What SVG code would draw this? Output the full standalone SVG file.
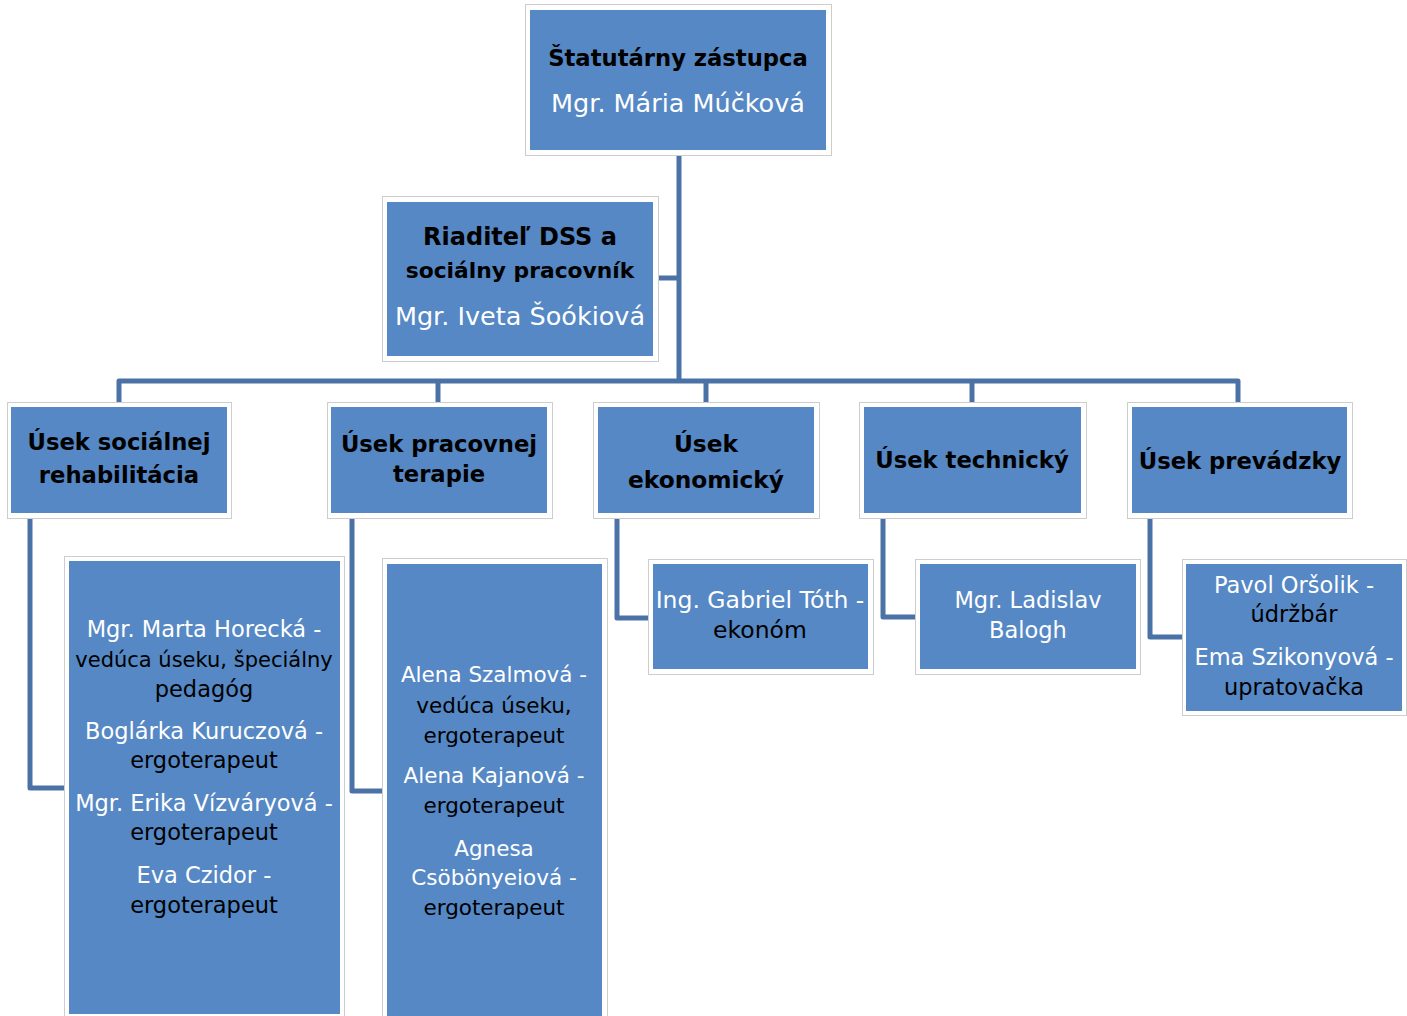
<svg xmlns="http://www.w3.org/2000/svg" width="1407" height="1016" viewBox="0 0 1407 1016">
<style>
.frame{fill:#ffffff;stroke:#cdcdcd;stroke-width:1}
.box{fill:#5588c4}
.conn{fill:none;stroke:#4a72a6;stroke-width:5;stroke-linejoin:round;stroke-linecap:butt}
text{font-family:"DejaVu Sans","Liberation Sans",sans-serif;text-anchor:middle}
.h{font-weight:bold;fill:#000000;font-size:22.7px}
.w{fill:#ffffff;font-size:22.5px}
.b{fill:#000000;font-size:22.5px}
.big{font-size:25.5px}
.sm{font-size:21.5px}
.lg{font-size:23.5px}
</style>
<rect width="1407" height="1016" fill="#ffffff"/>
<g id="connectors">
<path class="conn" d="M679,155 V381"/>
<path class="conn" d="M656,278 H679"/>
<path class="conn" d="M119,402 V381 H1238 V402"/>
<path class="conn" d="M438,381 V402"/>
<path class="conn" d="M706,381 V402"/>
<path class="conn" d="M972,381 V402"/>
<path class="conn" d="M30,516 V788 H66"/>
<path class="conn" d="M352,516 V791 H384"/>
<path class="conn" d="M617,516 V618 H650"/>
<path class="conn" d="M883,516 V617 H917"/>
<path class="conn" d="M1150,516 V637 H1184"/>
</g>
<g id="statutarny">
<rect class="frame" x="525.5" y="4.5" width="306" height="151"/>
<rect class="box" x="530" y="10" width="296" height="140"/>
<text class="h" x="678" y="66">Štatutárny zástupca</text>
<text class="w big" x="678" y="112">Mgr. Mária Múčková</text>
</g>
<g id="riaditel">
<rect class="frame" x="382.5" y="196.5" width="276" height="165"/>
<rect class="box" x="387" y="202" width="266" height="154"/>
<text class="h" x="520" y="245" style="font-size:24px">Riaditeľ DSS a</text>
<text class="h" x="520" y="278" style="font-size:21.8px">sociálny pracovník</text>
<text class="w big" x="520" y="325">Mgr. Iveta Šoókiová</text>
</g>
<g id="usek-socialnej">
<rect class="frame" x="7.5" y="402.5" width="224" height="116"/>
<rect class="box" x="11" y="407" width="216" height="106"/>
<text class="h" x="119" y="450">Úsek sociálnej</text>
<text class="h" x="119" y="483">rehabilitácia</text>
</g>
<g id="usek-pracovnej">
<rect class="frame" x="327.5" y="402.5" width="225" height="116"/>
<rect class="box" x="331" y="407" width="216" height="106"/>
<text class="h" x="439" y="452">Úsek pracovnej</text>
<text class="h" x="439" y="482">terapie</text>
</g>
<g id="usek-ekonomicky">
<rect class="frame" x="593.5" y="402.5" width="226" height="116"/>
<rect class="box" x="598" y="407" width="216" height="106"/>
<text class="h" x="706" y="452" style="font-size:23.3px">Úsek</text>
<text class="h" x="706" y="488" style="font-size:23.3px">ekonomický</text>
</g>
<g id="usek-technicky">
<rect class="frame" x="859.5" y="402.5" width="227" height="116"/>
<rect class="box" x="864" y="407" width="217" height="106"/>
<text class="h" x="972" y="468">Úsek technický</text>
</g>
<g id="usek-prevadzky">
<rect class="frame" x="1127.5" y="402.5" width="225" height="116"/>
<rect class="box" x="1132" y="407" width="215" height="106"/>
<text class="h" x="1240" y="469">Úsek prevádzky</text>
</g>
<g id="socialna-team">
<rect class="frame" x="64.5" y="556.5" width="280" height="470"/>
<rect class="box" x="69" y="561" width="271" height="453"/>
<text class="w" x="204" y="637">Mgr. Marta Horecká -</text>
<text class="b" x="204" y="667" style="font-size:21px">vedúca úseku, špeciálny</text>
<text class="b" x="204" y="697">pedagóg</text>
<text class="w" x="204" y="739">Boglárka Kuruczová -</text>
<text class="b" x="204" y="768">ergoterapeut</text>
<text class="w" x="204" y="811">Mgr. Erika Vízváryová -</text>
<text class="b" x="204" y="840">ergoterapeut</text>
<text class="w" x="204" y="883">Eva Czidor -</text>
<text class="b" x="204" y="913">ergoterapeut</text>
</g>
<g id="pracovna-team">
<rect class="frame" x="382.5" y="558.5" width="225" height="470"/>
<rect class="box" x="387" y="564" width="215" height="460"/>
<text class="w sm" x="494" y="682">Alena Szalmová -</text>
<text class="b sm" x="494" y="713">vedúca úseku,</text>
<text class="b sm" x="494" y="743">ergoterapeut</text>
<text class="w sm" x="494" y="783">Alena Kajanová -</text>
<text class="b sm" x="494" y="813">ergoterapeut</text>
<text class="w sm" x="494" y="856">Agnesa</text>
<text class="w sm" x="494" y="885">Csöbönyeiová -</text>
<text class="b sm" x="494" y="915">ergoterapeut</text>
</g>
<g id="ekonom">
<rect class="frame" x="648.5" y="559.5" width="225" height="115"/>
<rect class="box" x="653" y="564" width="215" height="105"/>
<text class="w lg" x="760" y="608">Ing. Gabriel Tóth -</text>
<text class="b lg" x="760" y="638">ekonóm</text>
</g>
<g id="technik">
<rect class="frame" x="915.5" y="559.5" width="225" height="115"/>
<rect class="box" x="920" y="564" width="216" height="105"/>
<text class="w" x="1028" y="608">Mgr. Ladislav</text>
<text class="w" x="1028" y="638">Balogh</text>
</g>
<g id="prevadzka-team">
<rect class="frame" x="1182.5" y="559.5" width="224" height="156"/>
<rect class="box" x="1186" y="564" width="216" height="147"/>
<text class="w" x="1294" y="593">Pavol Oršolik -</text>
<text class="b" x="1294" y="622">údržbár</text>
<text class="w" x="1294" y="665">Ema Szikonyová -</text>
<text class="b" x="1294" y="695">upratovačka</text>
</g>
</svg>
